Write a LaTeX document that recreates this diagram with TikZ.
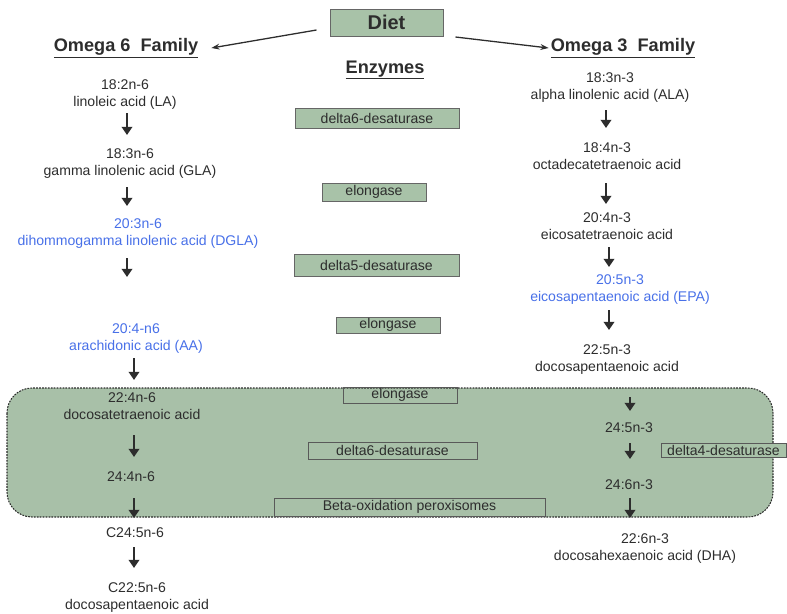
\documentclass[tikz,border=0pt]{standalone}
\usepackage{fontspec}
\setmainfont{Liberation Sans}
\usetikzlibrary{arrows.meta}
\definecolor{boxgreen}{RGB}{168,194,168}
\definecolor{zonegreen}{RGB}{168,192,168}
\definecolor{inkgray}{RGB}{45,45,45}
\definecolor{fablue}{RGB}{72,112,232}

\begin{document}
\begin{tikzpicture}[x=0.03cm, y=-0.03cm,
    acid/.style={align=center, inner sep=0pt, text=inkgray, font=\fontsize{12}{14.5}\selectfont},
    hiacid/.style={acid, text=fablue},
    head/.style={font=\fontsize{15.5}{18}\selectfont\bfseries, text=inkgray, inner sep=0pt},
    enz/.style={draw=black!60, fill=boxgreen, line width=0.8pt, inner sep=0pt, text=inkgray, font=\fontsize{12}{14}\selectfont},
    enzin/.style={draw=black!65, line width=0.6pt, inner sep=0pt, text=inkgray, font=\fontsize{12}{14}\selectfont},
    conv/.style={-{Triangle[length=7pt,width=9pt]}, line width=2pt, draw=inkgray},
    feed/.style={-{Stealth[length=7pt,width=5pt]}, line width=1.1pt, draw=inkgray}]
    \useasboundingbox (0,0) rectangle (787,613);

    % Peroxisome zone (green, dashed)
    \filldraw[fill=zonegreen, draw=inkgray, line width=0.9pt, dash pattern=on 1.5pt off 1pt, rounded corners=0.75cm] (7,388) rectangle (773,517);

    % Diet and family headings
    \node[enz, font=\fontsize{17}{20}\selectfont\bfseries, minimum width=3.39cm, minimum height=0.81cm] (diet) at (386.5,22.5) {Diet};
    \node[head] (om6) at (126,48) {\underline{Omega 6\ \ Family}};
    \node[head] (om3) at (623,48) {\underline{Omega 3\ \ Family}};
    \node[head] (enzh) at (385,70) {\underline{Enzymes}};
    \draw[feed] ([xshift=-0.39cm,yshift=-0.225cm]diet.west) -- ([xshift=0.39cm]om6.east);
    \draw[feed] ([xshift=0.36cm,yshift=-0.435cm]diet.east) -- ([xshift=-0.06cm]om3.west);

    % Enzymes (middle column)
    \node[enz, minimum width=4.92cm, minimum height=0.6cm] (d6a) at (377,118) {delta6-desaturase};
    \node[enz, minimum width=3.12cm, minimum height=0.54cm] (elo1) at (374,192) {elongase};
    \node[enz, minimum width=4.95cm, minimum height=0.66cm] (d5) at (376.5,265) {delta5-desaturase};
    \node[enz, minimum width=3.12cm, minimum height=0.48cm] (elo2) at (388,325) {elongase};
    \node[enzin, minimum width=3.42cm, minimum height=0.48cm] (elo3) at (400,395) {elongase};
    \node[enzin, minimum width=5.07cm, minimum height=0.51cm] (d6b) at (392.5,450.5) {delta6-desaturase};
    \node[enzin, minimum width=8.13cm, minimum height=0.54cm] (beta) at (409.5,507) {Beta-oxidation peroxisomes};
    \node[enzin, fill=boxgreen, minimum width=3.75cm, minimum height=0.42cm] (d4) at (723.5,450) {delta4-desaturase};

    % Omega 6 column
    \node[acid] (la) at (125,95) {18:2n-6\\linoleic acid (LA)};
    \node[acid] (gla) at (130,164) {18:3n-6\\gamma linolenic acid (GLA)};
    \node[hiacid] (dgla) at (138,234) {20:3n-6\\dihommogamma linolenic acid (DGLA)};
    \node[hiacid] (aa) at (136,339) {20:4-n6\\arachidonic acid (AA)};
    \node[acid] (dta) at (132,406) {22:4n-6\\docosatetraenoic acid};
    \node[acid] (tta) at (131,477) {24:4n-6};
    \node[acid] (tpa) at (135,533) {C24:5n-6};
    \node[acid] (dpa6) at (137,598) {C22:5n-6\\docosapentaenoic acid};

    % Omega 3 column
    \node[acid] (ala) at (610,88) {18:3n-3\\alpha linolenic acid (ALA)};
    \node[acid] (oda) at (607,156) {18:4n-3\\octadecatetraenoic acid};
    \node[acid] (eta) at (607,226) {20:4n-3\\eicosatetraenoic acid};
    \node[hiacid] (epa) at (620,290) {20:5n-3\\eicosapentaenoic acid (EPA)};
    \node[acid] (dpa3) at (607,360) {22:5n-3\\docosapentaenoic acid};
    \node[acid] (tpa3) at (629,428) {24:5n-3};
    \node[acid] (thx3) at (629,485) {24:6n-3};
    \node[acid] (dha) at (645,549) {22:6n-3\\docosahexaenoic acid (DHA)};

    % Arrow columns
    \coordinate (colA) at (127,0);
    \coordinate (colB) at (134,0);
    \coordinate (colC) at (606,0);
    \coordinate (colD) at (609,0);
    \coordinate (colE) at (630,0);

    % Omega 6 conversions
    \draw[conv, shorten <=0.54cm, shorten >=0.87cm] (la -| colA) -- (gla -| colA);
    \draw[conv, shorten <=0.69cm, shorten >=0.84cm] (gla -| colA) -- (dgla -| colA);
    \draw[conv, shorten <=0.72cm, shorten >=1.86cm] (dgla -| colA) -- (aa -| colA);
    \draw[conv, shorten <=0.57cm, shorten >=0.78cm] (aa -| colB) -- (dta -| colB);
    \draw[conv, shorten <=0.87cm, shorten >=0.60cm] (dta -| colB) -- (tta -| colB);
    \draw[conv, shorten <=0.63cm, shorten >=0.45cm] (tta -| colB) -- (tpa -| colB);
    \draw[conv, shorten <=0.42cm, shorten >=0.90cm] (tpa -| colB) -- (dpa6 -| colB);

    % Omega 3 conversions
    \draw[conv, shorten <=0.66cm, shorten >=0.84cm] (ala -| colC) -- (oda -| colC);
    \draw[conv, shorten <=0.81cm, shorten >=0.66cm] (oda -| colC) -- (eta -| colC);
    \draw[conv, shorten <=0.63cm, shorten >=0.69cm] (eta -| colD) -- (epa -| colD);
    \draw[conv, shorten <=0.60cm, shorten >=0.90cm] (epa -| colD) -- (dpa3 -| colD);
    \draw[conv, shorten <=1.11cm, shorten >=0.51cm] (dpa3 -| colE) -- (tpa3 -| colE);
    \draw[conv, shorten <=0.45cm, shorten >=0.78cm] (tpa3 -| colE) -- (thx3 -| colE);
    \draw[conv, shorten <=0.39cm, shorten >=0.93cm] (thx3 -| colE) -- (dha -| colE);
\end{tikzpicture}
\end{document}
